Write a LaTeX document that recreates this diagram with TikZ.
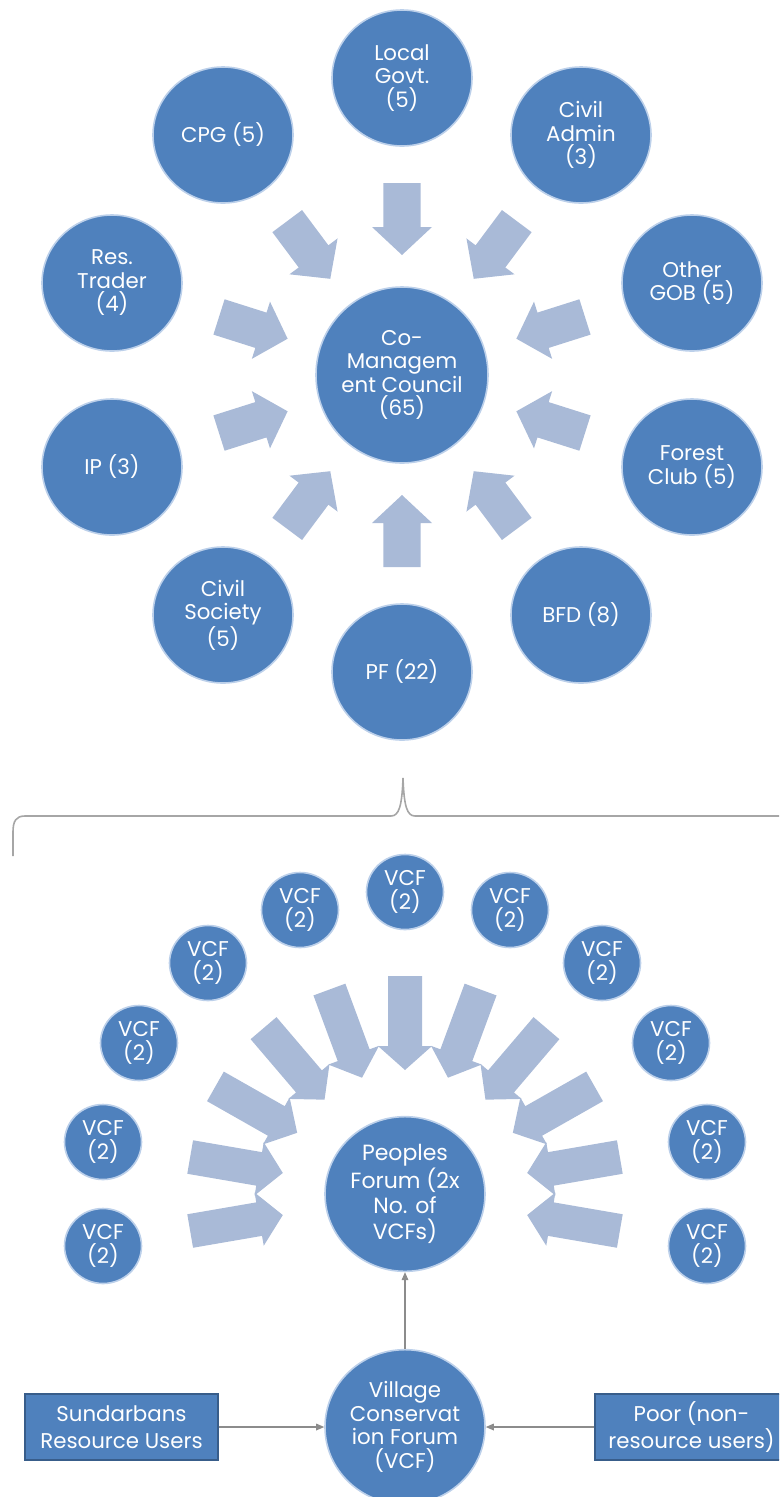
\documentclass[tikz,border=0pt]{standalone}
\usepackage{fontspec}
\setmainfont{Poppins}
\usetikzlibrary{shapes.geometric,calc,arrows.meta}
\definecolor{cblue}{HTML}{4F81BD}
\definecolor{cedge}{HTML}{BCD0EA}
\definecolor{carrow}{HTML}{A9BAD7}
\definecolor{bedge}{HTML}{385D8A}
\definecolor{lgray}{HTML}{8C8C8C}
\definecolor{bgray}{HTML}{A6A6A6}
% block arrow from outer node #2 toward centre node #1
% #3 tail distance, #4 head-base distance, #5 tip distance (from #1), #6 shaft half width, #7 head half width
\newcommand\blockarrow[7]{%
  \coordinate (bT) at ($(#1)!#3!(#2)$);
  \coordinate (bH) at ($(#1)!#4!(#2)$);
  \coordinate (bP) at ($(#1)!#5!(#2)$);
  \fill[carrow] ($(bT)!#6!90:(bP)$) -- ($(bH)!#6!90:(bP)$) -- ($(bH)!#7!90:(bP)$) -- (bP)
     -- ($(bH)!#7!-90:(bP)$) -- ($(bH)!#6!-90:(bP)$) -- ($(bT)!#6!-90:(bP)$) -- cycle;
}
\begin{document}
\begin{tikzpicture}[x=0.75pt,y=-0.75pt,
  bub/.style={ellipse, fill=cblue, draw=cedge, line width=1.2pt, inner sep=0pt,
              minimum width=105pt, minimum height=102pt},
  bigbub/.style={bub, minimum width=129pt, minimum height=132pt},
  smallbub/.style={bub, minimum width=57.75pt, minimum height=56.25pt},
  midbub/.style={bub, minimum width=120pt, minimum height=116pt},
  txt/.style={text=white, align=center, inner sep=0pt, font=\fontsize{16}{17.6}\selectfont},
  vtxt/.style={txt, font=\fontsize{16}{18.5}\selectfont},
  ptxt/.style={txt, font=\fontsize{16.5}{19.3}\selectfont},
  boxnode/.style={rectangle, fill=cblue, draw=bedge, line width=1.1pt, inner sep=0pt,
              minimum width=144.75pt, minimum height=49.5pt, text=white, align=center,
              font=\fontsize{16}{20}\selectfont},
  conn/.style={draw=lgray, line width=0.8pt, -{Triangle[length=6pt,width=5pt]}},
  brace/.style={draw=bgray, line width=1.2pt}
]
\useasboundingbox (0,0) rectangle (779,1497);
\clip (0,0) rectangle (779,1497);

% ---------- upper section: Co-Management Council ----------
\node[bigbub] (cmc) at (402,375) {};
\node[txt] (cmc-t) at (cmc) {Co-\\Managem\\ent Council\\(65)};

\node[bub] (lg)  at (402,78)  {};
\node[bub] (ca)  at (581,135) {};
\node[bub] (gob) at (692,283) {};
\node[bub] (fc)  at (692,467) {};
\node[bub] (bfd) at (581,615) {};
\node[bub] (pf)  at (402,672) {};
\node[bub] (cs)  at (223,615) {};
\node[bub] (ip)  at (112,467) {};
\node[bub] (rt)  at (112,283) {};
\node[bub] (cpg) at (223,135) {};

\node[txt] (lg-t)  at (lg)  {Local\\Govt.\\(5)};
\node[txt] (ca-t)  at (ca)  {Civil\\Admin\\(3)};
\node[txt] (gob-t) at (gob) {Other\\GOB (5)};
\node[txt] (fc-t)  at (fc)  {Forest\\Club (5)};
\node[txt] (bfd-t) at (bfd) {BFD (8)};
\node[txt] (pf-t)  at (pf)  {PF (22)};
\node[txt] (cs-t)  at (cs)  {Civil\\Society\\(5)};
\node[txt] (ip-t)  at (ip)  {IP (3)};
\node[txt] (rt-t)  at (rt)  {Res.\\Trader\\(4)};
\node[txt] (cpg-t) at (cpg) {CPG (5)};

\foreach \n in {lg,ca,gob,fc,bfd,pf,cs,ip,rt,cpg}{
  \blockarrow{cmc}{\n}{144pt}{111pt}{90pt}{13.9pt}{22.5pt}
}

% ---------- brace ----------
\draw[brace] (13,856) -- (13,832) .. controls (13,821) and (16,816) .. (25,816)
  -- (391,816) .. controls (399,816) and (402,806) .. (403,778)
  .. controls (404,806) and (407,816) .. (415,816) -- (800,816);

% ---------- lower section: Peoples Forum ----------
\node[midbub] (pfor) at (405,1194) {};
\node[ptxt] (pfor-t) at (pfor) {Peoples\\Forum (2x\\No. of\\VCFs)};

\foreach \n/\x/\y in {v1/103/1246, v2/103/1142, v3/139/1043, v4/208/963, v5/300/910,
                      v6/405/892, v7/510/910, v8/602/963, v9/671/1043, v10/707/1142, v11/707/1246}{
  \node[smallbub] (\n) at (\x,\y) {};
  \node[vtxt] (\n-t) at (\n) {VCF\\(2)};
}
\foreach \n in {v1,v2,v3,v4,v5,v6,v7,v8,v9,v10,v11}{
  \blockarrow{pfor}{\n}{163.5pt}{111pt}{93pt}{12.75pt}{20.25pt}
}

% ---------- bottom: Village Conservation Forum ----------
\node[midbub] (vcf) at (405,1427) {};
\node[txt] (vcf-t) at (vcf) {Village\\Conservat\\ion Forum\\(VCF)};

\node[boxnode] (sru)  at (121.5,1427) {Sundarbans\\Resource Users};
\node[boxnode] (poor) at (691.5,1427) {Poor (non-\\resource users)};

\draw[conn] (sru) -- (vcf);
\draw[conn] (poor) -- (vcf);
\draw[conn] (vcf) -- (pfor);
\end{tikzpicture}
\end{document}
